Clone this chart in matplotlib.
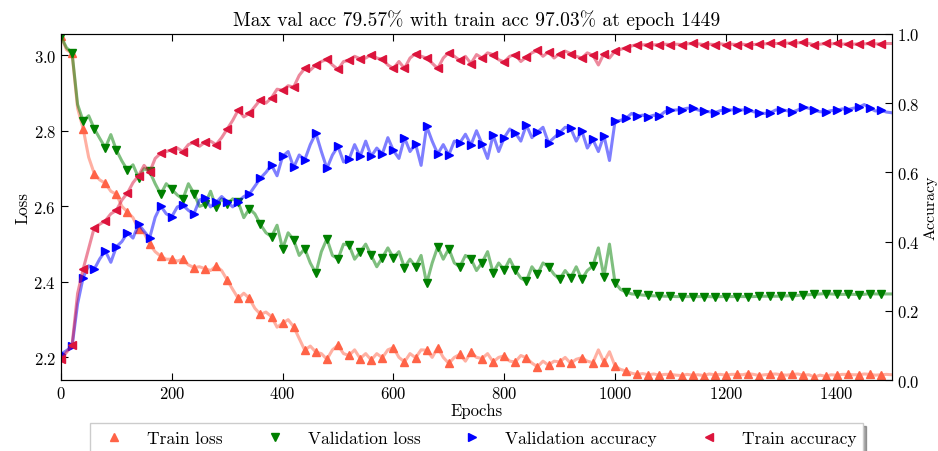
import matplotlib
matplotlib.use("Agg")
import matplotlib.pyplot as plt
import numpy as np

plt.rcParams['font.family'] = 'serif'
plt.rcParams['font.serif'] = ['cmr10', 'DejaVu Serif']
plt.rcParams['mathtext.fontset'] = 'cm'
plt.rcParams['axes.formatter.use_mathtext'] = True

# epochs sampled every 10, last one is 1499
epochs = np.append(np.arange(0, 1500, 10), 1499)

train_loss = [
    3.05, 3.015, 3.005, 2.86, 2.806, 2.73, 2.687, 2.67, 2.661, 2.64,
    2.632, 2.60, 2.585, 2.57, 2.54, 2.53, 2.50, 2.48, 2.468, 2.46,
    2.46, 2.455, 2.46, 2.445, 2.438, 2.44, 2.435, 2.43, 2.442, 2.43,
    2.405, 2.38, 2.356, 2.37, 2.356, 2.33, 2.314, 2.32, 2.308, 2.28,
    2.29, 2.30, 2.281, 2.25, 2.219, 2.23, 2.214, 2.21, 2.195, 2.22,
    2.232, 2.21, 2.205, 2.22, 2.197, 2.21, 2.193, 2.21, 2.199, 2.22,
    2.226, 2.20, 2.188, 2.21, 2.199, 2.22, 2.219, 2.20, 2.226, 2.20,
    2.184, 2.20, 2.208, 2.19, 2.214, 2.20, 2.197, 2.21, 2.188, 2.20,
    2.204, 2.19, 2.188, 2.205, 2.199, 2.185, 2.175, 2.19, 2.179, 2.19,
    2.188, 2.20, 2.184, 2.195, 2.199, 2.19, 2.186, 2.22, 2.188, 2.215,
    2.177, 2.168, 2.164, 2.158, 2.155, 2.157, 2.154, 2.156, 2.153, 2.155,
    2.155, 2.153, 2.152, 2.155, 2.153, 2.154, 2.152, 2.156, 2.154, 2.155,
    2.153, 2.155, 2.155, 2.154, 2.157, 2.155, 2.152, 2.154, 2.155, 2.156,
    2.154, 2.153, 2.155, 2.156, 2.153, 2.154, 2.148, 2.153, 2.150, 2.154,
    2.153, 2.155, 2.155, 2.154, 2.154, 2.156, 2.155, 2.153, 2.154, 2.155,
    2.154,
]
val_loss = [
    3.05, 3.02, 3.007, 2.87, 2.826, 2.84, 2.806, 2.78, 2.755, 2.79,
    2.749, 2.72, 2.696, 2.71, 2.676, 2.70, 2.693, 2.66, 2.632, 2.66,
    2.645, 2.63, 2.619, 2.66, 2.634, 2.60, 2.605, 2.64, 2.597, 2.62,
    2.605, 2.62, 2.611, 2.57, 2.594, 2.58, 2.552, 2.53, 2.52, 2.55,
    2.488, 2.53, 2.511, 2.47, 2.488, 2.45, 2.423, 2.48, 2.514, 2.47,
    2.461, 2.50, 2.497, 2.46, 2.479, 2.50, 2.47, 2.44, 2.464, 2.49,
    2.464, 2.48, 2.438, 2.46, 2.44, 2.47, 2.396, 2.45, 2.493, 2.46,
    2.488, 2.45, 2.44, 2.47, 2.461, 2.43, 2.451, 2.48, 2.424, 2.45,
    2.431, 2.46, 2.431, 2.41, 2.402, 2.44, 2.42, 2.45, 2.44, 2.42,
    2.407, 2.43, 2.411, 2.44, 2.407, 2.43, 2.442, 2.49, 2.414, 2.50,
    2.398, 2.38, 2.373, 2.368, 2.367, 2.365, 2.364, 2.363, 2.363, 2.362,
    2.362, 2.361, 2.361, 2.361, 2.361, 2.361, 2.361, 2.361, 2.360, 2.361,
    2.361, 2.361, 2.361, 2.361, 2.361, 2.361, 2.362, 2.362, 2.362, 2.362,
    2.362, 2.363, 2.363, 2.364, 2.366, 2.366, 2.367, 2.368, 2.369, 2.368,
    2.367, 2.367, 2.367, 2.367, 2.366, 2.367, 2.369, 2.368, 2.368, 2.368,
    2.368,
]
val_acc = [
    0.075, 0.085, 0.097, 0.22, 0.296, 0.33, 0.32, 0.35, 0.373, 0.34,
    0.385, 0.40, 0.426, 0.41, 0.45, 0.43, 0.41, 0.47, 0.503, 0.48,
    0.472, 0.50, 0.505, 0.49, 0.48, 0.52, 0.525, 0.50, 0.513, 0.53,
    0.515, 0.50, 0.515, 0.53, 0.537, 0.56, 0.583, 0.60, 0.621, 0.59,
    0.646, 0.66, 0.614, 0.65, 0.636, 0.68, 0.713, 0.66, 0.611, 0.65,
    0.675, 0.63, 0.638, 0.68, 0.646, 0.69, 0.646, 0.67, 0.653, 0.70,
    0.663, 0.64, 0.70, 0.66, 0.682, 0.62, 0.733, 0.69, 0.653, 0.68,
    0.65, 0.69, 0.685, 0.71, 0.679, 0.72, 0.682, 0.64, 0.708, 0.66,
    0.70, 0.725, 0.714, 0.69, 0.737, 0.70, 0.716, 0.73, 0.685, 0.70,
    0.714, 0.73, 0.727, 0.69, 0.72, 0.67, 0.695, 0.66, 0.706, 0.634,
    0.747, 0.75, 0.756, 0.77, 0.762, 0.765, 0.76, 0.765, 0.762, 0.775,
    0.779, 0.78, 0.781, 0.785, 0.785, 0.78, 0.776, 0.775, 0.772, 0.778,
    0.781, 0.78, 0.781, 0.78, 0.781, 0.775, 0.772, 0.77, 0.772, 0.78,
    0.781, 0.778, 0.774, 0.78, 0.788, 0.785, 0.779, 0.775, 0.774, 0.778,
    0.779, 0.783, 0.781, 0.785, 0.788, 0.7957, 0.785, 0.777, 0.779, 0.774,
    0.772,
]
train_acc = [
    0.06, 0.08, 0.10, 0.25, 0.32, 0.38, 0.44, 0.45, 0.46, 0.48,
    0.49, 0.52, 0.54, 0.57, 0.59, 0.62, 0.60, 0.64, 0.655, 0.66,
    0.665, 0.67, 0.66, 0.68, 0.687, 0.675, 0.687, 0.69, 0.68, 0.70,
    0.725, 0.75, 0.78, 0.76, 0.77, 0.79, 0.81, 0.80, 0.815, 0.84,
    0.837, 0.85, 0.846, 0.88, 0.90, 0.895, 0.91, 0.92, 0.926, 0.91,
    0.897, 0.92, 0.923, 0.935, 0.928, 0.93, 0.94, 0.93, 0.926, 0.91,
    0.90, 0.92, 0.90, 0.93, 0.943, 0.935, 0.93, 0.915, 0.90, 0.93,
    0.946, 0.935, 0.923, 0.935, 0.914, 0.94, 0.93, 0.945, 0.94, 0.925,
    0.919, 0.935, 0.94, 0.92, 0.933, 0.945, 0.952, 0.935, 0.948, 0.93,
    0.943, 0.95, 0.943, 0.935, 0.93, 0.945, 0.938, 0.91, 0.943, 0.93,
    0.95, 0.955, 0.96, 0.965, 0.969, 0.968, 0.969, 0.968, 0.969, 0.970,
    0.969, 0.970, 0.969, 0.971, 0.972, 0.971, 0.969, 0.970, 0.969, 0.971,
    0.969, 0.970, 0.969, 0.970, 0.968, 0.969, 0.970, 0.971, 0.972, 0.972,
    0.972, 0.973, 0.973, 0.974, 0.975, 0.972, 0.968, 0.970, 0.972, 0.971,
    0.972, 0.970, 0.971, 0.970, 0.971, 0.971, 0.972, 0.971, 0.971, 0.972,
    0.972,
]

fig, ax = plt.subplots(figsize=(9.38, 4.52), dpi=100)
fig.subplots_adjust(left=0.065, right=0.951, top=0.923, bottom=0.157)
ax2 = ax.twinx()

series = [
    (ax, train_loss, 'tomato', '^', 'Train loss'),
    (ax, val_loss, 'green', 'v', 'Validation loss'),
    (ax2, val_acc, 'blue', '>', 'Validation accuracy'),
    (ax2, train_acc, 'crimson', '<', 'Train accuracy'),
]
handles = []
for a, vals, c, m, lab in series:
    vals = np.array(vals)
    a.plot(epochs, vals, color=c, alpha=0.5, lw=2.2)
    h, = a.plot(epochs[:-1:2], vals[:-1:2], ls='none', marker=m, color=c,
                mec=c, ms=6, label=lab)
    handles.append(h)

ax.set_xlim(0, 1500)
ax.set_ylim(2.14, 3.057)
ax2.set_ylim(0, 1.0)
ax.set_yticks([2.2, 2.4, 2.6, 2.8, 3.0])
ax2.set_yticks([0.0, 0.2, 0.4, 0.6, 0.8, 1.0])

for a in (ax, ax2):
    a.tick_params(direction='in', length=5, labelsize=12)
ax.tick_params(axis='x', top=True)
for sp in ax.spines.values():
    sp.set_color('#333333')

ax.set_xlabel('Epochs', fontsize=12, labelpad=1)
ax.set_ylabel('Loss', fontsize=12, labelpad=2)
ax2.set_ylabel('Accuracy', fontsize=11.5, labelpad=3)
ax.set_title('Max val acc 79.57% with train acc 97.03% at epoch 1449', fontsize=14)

leg = ax2.legend(handles=handles, loc='upper center', bbox_to_anchor=(0.5, -0.10),
                 ncol=4, fontsize=12.5, numpoints=1, shadow=True, fancybox=False,
                 columnspacing=2.0, handletextpad=0.9, handlelength=2.0)
leg.get_frame().set_edgecolor('#cccccc')

fig.savefig('out.png', dpi=100)
